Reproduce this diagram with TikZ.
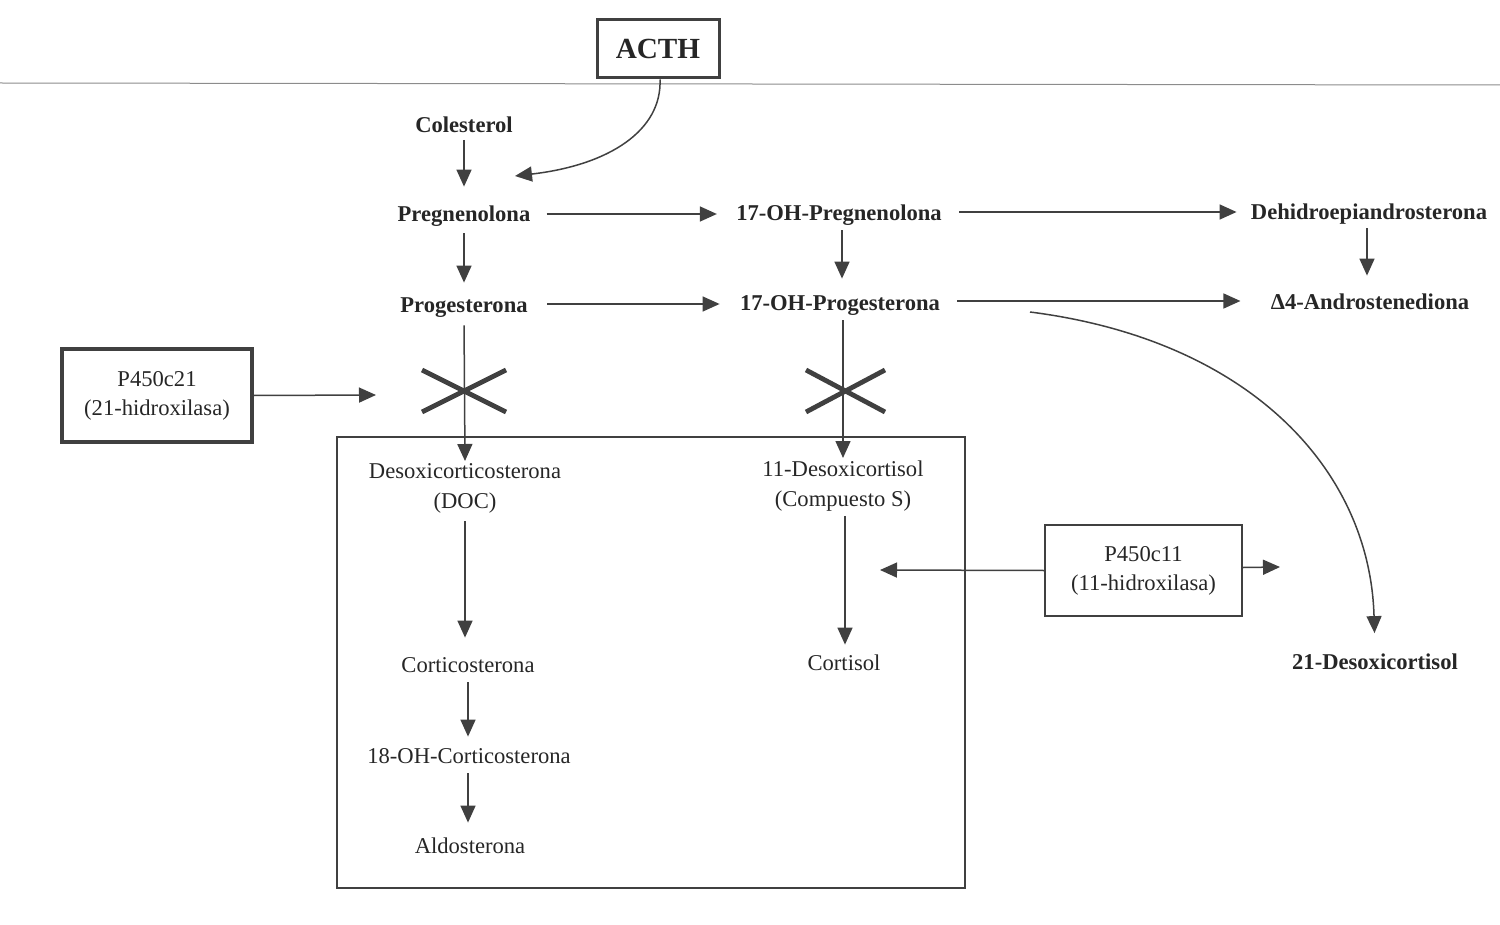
\documentclass[tikz,border=0pt]{standalone}
\usepackage{fontspec}
\setmainfont{Liberation Serif}
\usetikzlibrary{arrows.meta}
\begin{document}
\begin{tikzpicture}[x=0.5pt,y=-0.5pt,
  txt/.style={inner sep=1pt,text=black!85,font=\fontsize{11.3}{15}\selectfont,text height=8pt,text depth=2.5pt},
  btxt/.style={txt,font=\fontsize{11.3}{15}\selectfont\bfseries},
  mtxt/.style={inner sep=1pt,text=black!85,align=center,font=\fontsize{11.3}{15}\selectfont},
  arr/.style={draw=black!75,line width=0.75pt,-{Triangle[length=8.5pt,width=7.5pt]}},
  cross/.style={draw=black!75,line width=2.4pt},
  enzbox/.style={draw=black!75,align=center,text=black!85,inner sep=0pt,font=\fontsize{11.3}{14.5}\selectfont}
]
\useasboundingbox (0,0) rectangle (1500,925);
% top rule
\draw[black!45,line width=0.5pt] (0,83) -- (1500,85);
% ACTH
\node[draw=black!75,line width=1.5pt,minimum width=61pt,minimum height=29pt,inner sep=0pt,text=black!85,font=\fontsize{14.6}{17}\selectfont\bfseries] (acth) at (658,49) {\raisebox{-1.5pt}{ACTH}};
% nodes
\node[btxt] (col)   at (464,127) {Colesterol};
\node[btxt] (preg)  at (464,216) {Pregnenolona};
\node[btxt] (prog)  at (464,307) {Progesterona};
\node[btxt] (ohpreg) at (839,215) {17-OH-Pregnenolona};
\node[btxt] (ohprog) at (840,305) {17-OH-Progesterona};
\node[btxt] (dhea)  at (1369,214) {Dehidroepiandrosterona};
\node[btxt] (andro) at (1370,304) {Δ4-Androstenediona};
\node[btxt] (desox) at (1375,664) {21-Desoxicortisol};
\node[mtxt,anchor=north] (doc) at (465,461) {Desoxicorticosterona\\(DOC)};
\node[mtxt,anchor=north] (comps) at (843,458) {11-Desoxicortisol\\(Compuesto S)};
\node[txt] (cortico) at (468,667) {Corticosterona};
\node[txt] (oh18) at (469,758) {18-OH-Corticosterona};
\node[txt] (aldo) at (470,848) {Aldosterona};
\node[txt] (cortisol) at (844,665) {Cortisol};
% enzyme boxes
\node[enzbox,line width=2.2pt,minimum width=95pt,minimum height=46.5pt] (p21) at (157,395.5) {P450c21\\(21-hidroxilasa)};
\node[enzbox,line width=1.2pt,minimum width=98.5pt,minimum height=45.5pt] (p11) at (1143.5,570.5) {P450c11\\(11-hidroxilasa)};
% big box
\node[draw=black!75,line width=1pt,minimum width=314pt,minimum height=225.5pt,inner sep=0pt] (zona) at (651,662.5) {};
% free ends
\coordinate (acthtip) at (515,176);
\coordinate (p21tip) at (376,395);
\coordinate (p11l) at (880,570);
\coordinate (p11r) at (1280,567);
\coordinate (cs) at (1030,312);
% vertical arrows
\draw[arr,shorten >=8.25pt] (col.south) -- (preg.north);
\draw[arr,shorten <=2.25pt,shorten >=5.75pt] (preg.south) -- (prog.north);
\draw[arr,shorten <=1.25pt,shorten >=6.75pt] (ohpreg.south -| 842,0) -- (ohprog.north -| 842,0);
\draw[arr,shorten <=0.75pt,shorten >=7.75pt] (dhea.south -| 1367,0) -- (andro.north -| 1367,0);
\draw[arr,shorten <=2.75pt] (prog.south) -- (doc.north);
\draw[arr,shorten <=1.25pt] (ohprog.south -| 843,0) -- (comps.north);
\draw[arr,shorten <=2.75pt,shorten >=8.25pt] (doc.south) -- (doc.south |- cortico.north);
\draw[arr,shorten <=1.25pt,shorten >=4.25pt] (cortico.south) -- (cortico.south |- oh18.north);
\draw[arr,shorten <=1.25pt,shorten >=6.25pt] (oh18.south -| cortico.south) -- (aldo.north -| cortico.south);
\draw[arr,shorten <=1.25pt,shorten >=3.75pt] (comps.south -| 845,0) -- (cortisol.north -| 845,0);
% horizontal arrows
\draw[arr,shorten <=7pt,shorten >=8.5pt] ([yshift=1pt]preg.east) -- ([yshift=1pt]preg.east -| ohpreg.west);
\draw[arr,shorten <=7.5pt,shorten >=6pt] ([yshift=1.5pt]ohpreg.east) -- ([yshift=1.5pt]ohpreg.east -| dhea.west);
\draw[arr,shorten <=8.5pt,shorten >=9pt] ([yshift=1.5pt]prog.east) -- ([yshift=1.5pt]prog.east -| ohprog.west);
\draw[arr,shorten <=7.5pt,shorten >=14pt] ([yshift=2pt]ohprog.east) -- ([yshift=2pt]ohprog.east -| andro.west);
% curves
\draw[arr] ([xshift=1pt]acth.south) .. controls (662,130) and (610,165) .. (acthtip);
\draw[arr,shorten >=9pt] (cs) .. controls (1250,340) and (1370,470) .. (desox.north);
% enzyme arrows
\draw[arr] (p21.east) -- (p21tip);
\draw[arr] (p11.west) -- (p11l);
\draw[arr] ([yshift=1.5pt]p11.east) -- (p11r);
% crosses
\draw[cross] (422,370) -- (506,412);
\draw[cross] (422,412) -- (506,370);
\draw[cross] (806,370) -- (885,412);
\draw[cross] (806,412) -- (885,370);
\end{tikzpicture}
\end{document}
